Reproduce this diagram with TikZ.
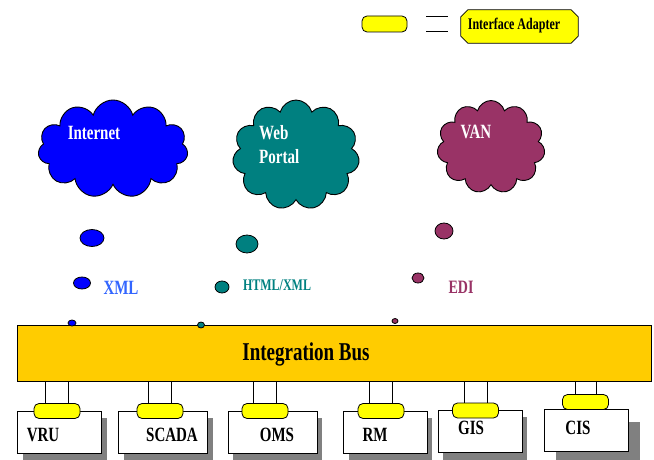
\documentclass[tikz,border=0pt]{standalone}
\usepackage{fontspec}
\setmainfont{Liberation Serif}
\usetikzlibrary{shapes.symbols}
\usetikzlibrary{shapes.geometric}
\usepackage{xcolor}

\definecolor{internetblue}{RGB}{0,0,255}
\definecolor{portalteal}{RGB}{0,128,128}
\definecolor{vanplum}{RGB}{153,51,102}
\definecolor{busgold}{RGB}{255,204,0}
\definecolor{adapteryellow}{RGB}{255,255,0}
\definecolor{xmlblue}{RGB}{51,102,255}
\definecolor{shadowgray}{RGB}{128,128,128}

\newcommand{\tallbf}[1]{\scalebox{1}[1.35]{\bfseries #1}}

\begin{document}
\begin{tikzpicture}[x=1pt,y=-1pt,
  adapter/.style={draw, fill=adapteryellow, rounded corners=5pt, minimum width=46pt, minimum height=15pt, inner sep=0pt, line width=0.8pt},
  sysbox/.style={draw, fill=white, minimum height=42pt, inner sep=0pt, line width=0.8pt},
  netcloud/.style={cloud, cloud puffs=11, cloud ignores aspect, draw, line width=0.9pt, inner sep=0pt},
  bubble/.style={ellipse, draw, line width=0.8pt, inner sep=0pt},
  label15/.style={inner sep=0pt, font=\fontsize{15}{18}\selectfont},
  label12/.style={inner sep=0pt, font=\fontsize{12}{14}\selectfont}]
\useasboundingbox (0,0) rectangle (654,460);

%Shape: Legend
\node [adapter, minimum width=45pt, minimum height=16pt] (legad) at (384.5,24) {};
\node [minimum width=117pt, minimum height=33pt, inner sep=0pt] (legbox) at (519.5,26.5) {};
\draw [fill=adapteryellow, line width=0.8pt] ([xshift=7pt]legbox.north west) -- ([xshift=-7pt]legbox.north east) -- ([yshift=-7pt]legbox.north east) -- ([yshift=7pt]legbox.south east) -- ([xshift=-7pt]legbox.south east) -- ([xshift=7pt]legbox.south west) -- ([yshift=7pt]legbox.south west) -- ([yshift=-7pt]legbox.north west) -- cycle ;
\node [label12] (legtext) at (514,26) {\tallbf{Interface Adapter}};
\coordinate (eqa) at (426,16);
\coordinate (eqb) at (448,16);
\coordinate (eqc) at (426,31);
\coordinate (eqd) at (448,31);
\draw [line width=0.8pt] (eqa) -- (eqb) ;
\draw [line width=0.8pt] (eqc) -- (eqd) ;

%Shape: Clouds
\node [netcloud, fill=internetblue, minimum width=150pt, minimum height=98pt] (internet) at (113,149) {};
\node [netcloud, fill=portalteal, minimum width=127pt, minimum height=110pt] (portal) at (296,155) {};
\node [netcloud, fill=vanplum, minimum width=108pt, minimum height=93pt] (van) at (491,147) {};

% Text Node
\node [label15, text=white] (internettext) at (94,133) {\tallbf{Internet}};
\node [inner sep=0pt, font=\fontsize{15}{24}\selectfont, text=white, align=left, anchor=west] (portaltext) at (259,145) {\tallbf{Web}\\\tallbf{Portal}};
\node [label15, text=white] (vantext) at (476,132) {\tallbf{VAN}};

%Shape: Integration Bus
\node [draw, fill=busgold, line width=1pt, minimum width=634pt, minimum height=56pt, inner sep=0pt] (bus) at (334,353) {};
\node [inner sep=0pt, font=\fontsize{19}{22}\selectfont] (bustext) at (306,354) {\tallbf{Integration Bus}};

%Shape: Bubbles
\node [bubble, fill=internetblue, minimum width=24pt, minimum height=17pt] (inbub1) at (92,238) {};
\node [bubble, fill=internetblue, minimum width=17pt, minimum height=12pt] (inbub2) at (82,283) {};
\node [bubble, fill=internetblue, minimum width=8pt, minimum height=6pt] (inbub3) at (72,323) {};
\node [bubble, fill=portalteal, minimum width=22pt, minimum height=18pt] (pobub1) at (247,244) {};
\node [bubble, fill=portalteal, minimum width=14pt, minimum height=12pt] (pobub2) at (222,287) {};
\node [bubble, fill=portalteal, minimum width=7pt, minimum height=6pt] (pobub3) at (201,325) {};
\node [bubble, fill=vanplum, minimum width=18pt, minimum height=16pt] (vabub1) at (444,231) {};
\node [bubble, fill=vanplum, minimum width=12pt, minimum height=10pt] (vabub2) at (418,278) {};
\node [bubble, fill=vanplum, minimum width=6pt, minimum height=5pt] (vabub3) at (395,321) {};

% Text Node
\node [label15, text=xmlblue] (xmltext) at (121,288) {\tallbf{XML}};
\node [label12, text=portalteal] (htmltext) at (277,285) {\tallbf{HTML/XML}};
\node [inner sep=0pt, font=\fontsize{14}{16}\selectfont, text=vanplum] (editext) at (461,287) {\tallbf{EDI}};

%Shape: Shadows
\fill [shadowgray] (23,418) rectangle (107,460) ;
\fill [shadowgray] (124,418) rectangle (213,460) ;
\fill [shadowgray] (233,418) rectangle (322,460) ;
\fill [shadowgray] (349,418) rectangle (432,460) ;
\fill [shadowgray] (443,417) rectangle (527,460) ;
\fill [shadowgray] (556,422) rectangle (640,460) ;

%Shape: Systems
\node [sysbox, minimum width=84pt] (vru) at (59,432) {};
\node [sysbox, minimum width=89pt] (scada) at (162.5,432) {};
\node [sysbox, minimum width=89pt] (oms) at (272.5,432) {};
\node [sysbox, minimum width=84pt] (rm) at (385,432) {};
\node [sysbox, minimum width=84pt] (gis) at (480,431) {};
\node [sysbox, minimum width=84pt] (cis) at (586,430.5) {};

%Shape: Adapters
\node [adapter] (vruad) at (57,411) {};
\node [adapter] (scadaad) at (160,411) {};
\node [adapter] (omsad) at (265,411) {};
\node [adapter] (rmad) at (381,411) {};
\node [adapter] (gisad) at (475.5,410.5) {};
\node [adapter] (cisad) at (585.5,402) {};

%Straight Lines
\draw [line width=0.7pt] ([xshift=-11.5pt]vruad.north) -- ([xshift=-11.5pt]vruad.north |- bus.south) ;
\draw [line width=0.7pt] ([xshift=11.5pt]vruad.north) -- ([xshift=11.5pt]vruad.north |- bus.south) ;
\draw [line width=0.7pt] ([xshift=-11.5pt]scadaad.north) -- ([xshift=-11.5pt]scadaad.north |- bus.south) ;
\draw [line width=0.7pt] ([xshift=11.5pt]scadaad.north) -- ([xshift=11.5pt]scadaad.north |- bus.south) ;
\draw [line width=0.7pt] ([xshift=-11.5pt]omsad.north) -- ([xshift=-11.5pt]omsad.north |- bus.south) ;
\draw [line width=0.7pt] ([xshift=11.5pt]omsad.north) -- ([xshift=11.5pt]omsad.north |- bus.south) ;
\draw [line width=0.7pt] ([xshift=-11.5pt]rmad.north) -- ([xshift=-11.5pt]rmad.north |- bus.south) ;
\draw [line width=0.7pt] ([xshift=11.5pt]rmad.north) -- ([xshift=11.5pt]rmad.north |- bus.south) ;
\draw [line width=0.7pt] ([xshift=-11.5pt]gisad.north) -- ([xshift=-11.5pt]gisad.north |- bus.south) ;
\draw [line width=0.7pt] ([xshift=11.5pt]gisad.north) -- ([xshift=11.5pt]gisad.north |- bus.south) ;
\draw [line width=0.7pt] ([xshift=-10.5pt]cisad.north) -- ([xshift=-10.5pt]cisad.north |- bus.south) ;
\draw [line width=0.7pt] ([xshift=10.5pt]cisad.north) -- ([xshift=10.5pt]cisad.north |- bus.south) ;

% Text Node
\node [label15] (vrutext) at (43,435) {\tallbf{VRU}};
\node [label15] (scadatext) at (172,435) {\tallbf{SCADA}};
\node [label15] (omstext) at (277,435) {\tallbf{OMS}};
\node [label15] (rmtext) at (375,435) {\tallbf{RM}};
\node [label15] (gistext) at (471,428) {\tallbf{GIS}};
\node [label15] (cistext) at (578,428) {\tallbf{CIS}};

\end{tikzpicture}
\end{document}
